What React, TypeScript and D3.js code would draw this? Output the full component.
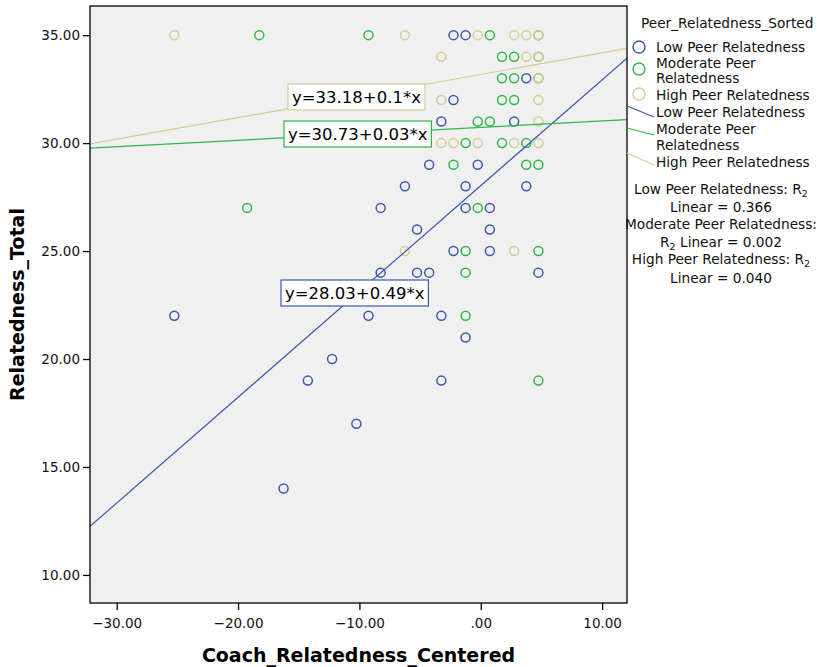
import React, { useEffect, useRef } from 'react';
import * as d3 from 'd3';

const groups = ['Low Peer Relatedness', 'Moderate Peer Relatedness', 'High Peer Relatedness'];
const colors = ['#3e58ac', '#2eb848', '#d3ce97'];

// [Coach_Relatedness_Centered, Relatedness_Total]
const lowPoints = [
  [-2.25, 35], [-1.25, 35], [3.75, 33], [-2.25, 32], [-3.25, 31], [2.75, 31],
  [-4.25, 29], [-0.25, 29], [-6.25, 28], [-1.25, 28], [3.75, 28], [-8.25, 27],
  [-1.25, 27], [0.75, 27], [-5.25, 26], [0.75, 26], [-2.25, 25], [0.75, 25],
  [-8.25, 24], [-5.25, 24], [-4.25, 24], [4.75, 24], [-25.25, 22], [-9.25, 22],
  [-3.25, 22], [-1.25, 21], [-12.25, 20], [-14.25, 19], [-3.25, 19], [-10.25, 17],
  [-16.25, 14]
];
const moderatePoints = [
  [-18.25, 35], [-9.25, 35], [0.75, 35], [4.75, 35], [1.75, 34], [2.75, 34],
  [4.75, 34], [1.75, 33], [2.75, 33], [4.75, 33], [1.75, 32], [2.75, 32],
  [-0.25, 31], [0.75, 31], [-1.25, 30], [1.75, 30], [3.75, 30], [-2.25, 29],
  [3.75, 29], [4.75, 29], [-19.25, 27], [-0.25, 27], [-1.25, 25], [4.75, 25],
  [-1.25, 24], [-1.25, 22], [4.75, 19]
];
const highPoints = [
  [-25.25, 35], [-6.25, 35], [-0.25, 35], [2.75, 35], [3.75, 35], [4.75, 35],
  [-3.25, 34], [3.75, 34], [4.75, 34], [4.75, 33], [-3.25, 32], [4.75, 32],
  [4.75, 31], [-3.25, 30], [-2.25, 30], [-0.25, 30], [2.75, 30], [4.75, 30],
  [-6.25, 25], [2.75, 25]
];

const intercepts = [28.03, 30.73, 33.18];
const slopes = [0.49, 0.03, 0.1];
const eqLabels = ['y=28.03+0.49*x', 'y=30.73+0.03*x', 'y=33.18+0.1*x'];
const r2Values = ['0.366', '0.002', '0.040'];

const xTicks = [-30, -20, -10, 0, 10];
const yTicks = [10, 15, 20, 25, 30, 35];

const FONT = '"DejaVu Sans", Verdana, sans-serif';

export default function App() {
  const ref = useRef<SVGSVGElement>(null);

  useEffect(() => {
    const svg = d3.select(ref.current);
    svg.selectAll('*').remove();

    const left = 90, right = 627, top = 6, bottom = 603;
    const x = d3.scaleLinear().domain([-32.2, 12.05]).range([left, right]);
    const y = d3.scaleLinear().domain([8.7, 36.35]).range([bottom, top]);

    svg.append('rect').attr('width', 821).attr('height', 667).attr('fill', '#fff');

    svg.append('clipPath').attr('id', 'plotclip')
      .append('rect').attr('x', left).attr('y', top)
      .attr('width', right - left).attr('height', bottom - top);

    svg.append('rect')
      .attr('x', left).attr('y', top)
      .attr('width', right - left).attr('height', bottom - top)
      .attr('fill', '#f0f0f0');

    // axes
    const xAxis = svg.append('g').attr('transform', `translate(0,${bottom})`)
      .call(d3.axisBottom(x).tickValues(xTicks).tickSize(7).tickPadding(8)
        .tickFormat(d => (+d === 0 ? '.00' : d3.format('.2f')(+d))));
    const yAxis = svg.append('g').attr('transform', `translate(${left},0)`)
      .call(d3.axisLeft(y).tickValues(yTicks).tickSize(7).tickPadding(3)
        .tickFormat(d => d3.format('.2f')(+d)));
    [xAxis, yAxis].forEach(a => {
      a.select('.domain').remove();
      a.selectAll('line').attr('stroke', '#000').attr('stroke-width', 1.3);
      a.selectAll('text').attr('font-family', FONT).attr('font-size', 13.5).attr('fill', '#111');
    });

    // points
    const pointSets = [lowPoints, moderatePoints, highPoints];
    pointSets.forEach((pts, i) => {
      svg.append('g').selectAll('circle').data(pts).join('circle')
        .attr('cx', d => x(d[0])).attr('cy', d => y(d[1])).attr('r', 4.5)
        .attr('fill', 'none').attr('stroke', colors[i]).attr('stroke-width', 1.5);
    });

    // fit lines
    const lines = svg.append('g').attr('clip-path', 'url(#plotclip)');
    intercepts.forEach((b, i) => {
      const [x0, x1] = x.domain();
      lines.append('line')
        .attr('x1', x(x0)).attr('y1', y(b + slopes[i] * x0))
        .attr('x2', x(x1)).attr('y2', y(b + slopes[i] * x1))
        .attr('stroke', colors[i]).attr('stroke-width', 1.2);
    });

    // equation boxes
    const boxPos = [[281, 280], [284, 121], [288, 84]];
    eqLabels.forEach((lab, i) => {
      const g = svg.append('g');
      const rect = g.append('rect');
      const t = g.append('text')
        .attr('x', boxPos[i][0] + 4).attr('y', boxPos[i][1] + 13)
        .attr('dominant-baseline', 'central')
        .attr('font-family', FONT).attr('font-size', 16.5).attr('fill', '#000')
        .text(lab);
      const w = (t.node() as SVGTextElement).getComputedTextLength();
      rect.attr('x', boxPos[i][0]).attr('y', boxPos[i][1])
        .attr('width', w + 8).attr('height', 26)
        .attr('fill', '#fff').attr('stroke', colors[i]).attr('stroke-width', 1.2);
    });

    // frame
    svg.append('rect')
      .attr('x', left).attr('y', top)
      .attr('width', right - left).attr('height', bottom - top)
      .attr('fill', 'none').attr('stroke', '#000').attr('stroke-width', 1.3);

    // axis titles
    svg.append('text')
      .attr('x', (left + right) / 2).attr('y', 655)
      .attr('text-anchor', 'middle').attr('dominant-baseline', 'central')
      .attr('font-family', FONT).attr('font-size', 19).attr('font-weight', 'bold')
      .text('Coach_Relatedness_Centered');
    svg.append('text')
      .attr('transform', `translate(17,${(top + bottom) / 2}) rotate(-90)`)
      .attr('text-anchor', 'middle').attr('dominant-baseline', 'central')
      .attr('font-family', FONT).attr('font-size', 19).attr('font-weight', 'bold')
      .text('Relatedness_Total');

    // legend
    const lg = svg.append('g').attr('font-family', FONT).attr('font-size', 13.7).attr('fill', '#111');
    lg.append('text').attr('x', 641).attr('y', 23).attr('dominant-baseline', 'central')
      .text('Peer_Relatedness_Sorted');

    const markerY = [47, 69, 94];
    const wrapLines = [['Low Peer Relatedness'], ['Moderate Peer', 'Relatedness'], ['High Peer Relatedness']];
    const markerTextY = [[47], [63, 78], [95]];
    groups.forEach((g, i) => {
      lg.append('circle').attr('cx', 639).attr('cy', markerY[i]).attr('r', 6)
        .attr('fill', 'none').attr('stroke', colors[i]).attr('stroke-width', 1.4);
      wrapLines[i].forEach((s, j) => {
        lg.append('text').attr('x', 656).attr('y', markerTextY[i][j])
          .attr('dominant-baseline', 'central').text(s);
      });
    });

    const lineFromY = [106, 128, 153];
    const lineToY = [117, 135, 165];
    const lineTextY = [[112], [129, 144.5], [162]];
    groups.forEach((g, i) => {
      lg.append('line').attr('x1', right).attr('y1', lineFromY[i])
        .attr('x2', 654).attr('y2', lineToY[i])
        .attr('stroke', colors[i]).attr('stroke-width', 1.2);
      wrapLines[i].forEach((s, j) => {
        lg.append('text').attr('x', 656).attr('y', lineTextY[i][j])
          .attr('dominant-baseline', 'central').text(s);
      });
    });

    // R2 notes
    const r2Y = [189, 207, 224, 242, 259, 278];
    const center = 721;
    const row = (i: number) => lg.append('text').attr('x', center).attr('y', r2Y[i])
      .attr('text-anchor', 'middle').attr('dominant-baseline', 'central');
    const addR = (sel: any, after: string) => {
      sel.append('tspan').text('R');
      sel.append('tspan').attr('font-size', 9.5).attr('dy', 4).text('2');
      if (after) sel.append('tspan').attr('dy', -4).text(after);
    };
    let t = row(0);
    t.append('tspan').text(`${groups[0]}: `); addR(t, '');
    row(1).text(`Linear = ${r2Values[0]}`);
    row(2).text(`${groups[1]}:`);
    t = row(3); addR(t, ` Linear = ${r2Values[1]}`);
    t = row(4);
    t.append('tspan').text(`${groups[2]}: `); addR(t, '');
    row(5).text(`Linear = ${r2Values[2]}`);
  }, []);

  return (
    <svg ref={ref} width={821} height={667}
      style={{ position: 'absolute', left: 0, top: 0, display: 'block' }} />
  );
}
